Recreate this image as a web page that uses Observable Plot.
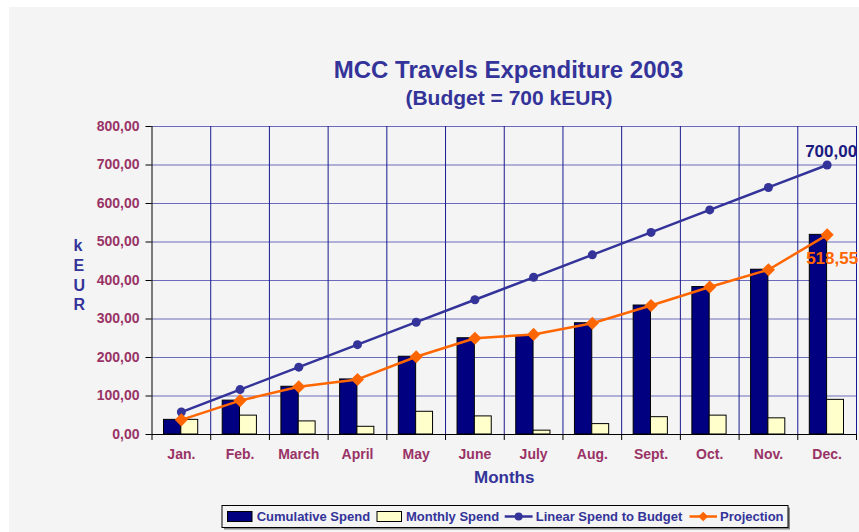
<!DOCTYPE html>
<html><head><meta charset="utf-8">
<script src="https://cdn.jsdelivr.net/npm/d3@7"></script>
<script src="https://cdn.jsdelivr.net/npm/@observablehq/plot@0.6"></script>
<style>
body{margin:0;background:#fff;}
#wrap{position:relative;width:859px;height:532px;overflow:hidden;font-family:"Liberation Sans",Arial,sans-serif;}
#bg{position:absolute;left:9px;top:7px;right:0;bottom:0;background:#f4f4f4;}
#chart{position:absolute;left:0;top:0;}
#legend{position:absolute;left:0;top:0;}
</style></head><body>
<div id="wrap"><div id="bg"></div><div id="chart"></div><svg id="legend" width="859" height="532"></svg></div>
<script>
const months = ["Jan.","Feb.","March","April","May","June","July","Aug.","Sept.","Oct.","Nov.","Dec."];
const cumulativeSpend = [38, 88, 124, 143, 202, 250, 256, 289, 335, 383, 428, 518.55];
const monthlySpend = [38, 49, 34, 20, 59, 47, 10, 27, 45, 49, 42, 90];
const linearSpend = [58.33, 116.67, 175, 233.33, 291.67, 350, 408.33, 466.67, 525, 583.33, 641.67, 700];
const projection = [38, 88, 124, 143, 202, 250, 260, 289, 335, 383, 428, 518.55];
const yTicks = [0, 100, 200, 300, 400, 500, 600, 700, 800];
const seriesNames = ["Cumulative Spend", "Monthly Spend", "Linear Spend to Budget", "Projection"];

const W = 859, H = 532, L = 151.5, R = 3, T = 126, B = 98;
const bw = (W - R - L) / months.length;
const data = months.map((m, i) => ({month: m, cum: cumulativeSpend[i], mon: monthlySpend[i], lin: linearSpend[i], proj: projection[i]}));
const last = data[data.length - 1];
const fmt = d => d3.format(".2f")(d).replace(".", ",");
const navy = "#000080", titleC = "#333399", maroon = "#993366", orange = "#ff6600";

const chart = Plot.plot({
  width: W, height: H, marginLeft: L, marginRight: R, marginTop: T, marginBottom: B,
  style: {background: "transparent", fontFamily: "'Liberation Sans', Arial, sans-serif", overflow: "visible"},
  x: {type: "band", domain: months, padding: 0, round: false, axis: null},
  y: {domain: [0, 800], axis: null},
  marks: [
    Plot.ruleY(yTicks.slice(1), {stroke: "#6b6bbb", strokeWidth: 1}),
    Plot.ruleX(months.slice(1), {x: d => d, dx: -bw / 2, stroke: "#1a1a90", strokeWidth: 1}),
    Plot.ruleX([months[months.length - 1]], {x: d => d, dx: bw / 2, stroke: "#1a1a90", strokeWidth: 1}),
    Plot.barY(data, {x: "month", y: "cum", fill: navy, stroke: "#000", strokeWidth: 1, insetLeft: 12, insetRight: bw - 29.3}),
    Plot.barY(data, {x: "month", y: "mon", fill: "#ffffcc", stroke: "#000", strokeWidth: 1, insetLeft: 29.3, insetRight: 12.5}),
    Plot.ruleY([0], {stroke: "#000", strokeWidth: 1}),
    Plot.ruleX([months[0]], {x: d => d, dx: -bw / 2, stroke: "#000", strokeWidth: 1}),
    Plot.ruleX(months, {x: d => d, dx: -bw / 2, y1: 0, y2: 0, insetBottom: -6, stroke: "#000"}),
    Plot.ruleX([months[months.length - 1]], {x: d => d, dx: bw / 2, y1: 0, y2: 0, insetBottom: -6, stroke: "#000"}),
    Plot.axisY({ticks: yTicks, tickFormat: () => "", tickSize: 6, stroke: "#000", label: null}),
    Plot.axisY({ticks: yTicks, tickFormat: fmt, tickSize: 0, tickPadding: 12.5, fill: maroon, fontSize: 14, fontWeight: "bold", label: null}),
    Plot.axisX({tickSize: 0, tickPadding: 15, fill: maroon, fontSize: 14, fontWeight: "bold", label: null}),
    Plot.line(data, {x: "month", y: "lin", stroke: titleC, strokeWidth: 2.5}),
    Plot.dot(data, {x: "month", y: "lin", fill: titleC, r: 4.5, symbol: "circle"}),
    Plot.line(data, {x: "month", y: "proj", stroke: orange, strokeWidth: 2.5}),
    Plot.dot(data, {x: "month", y: "proj", fill: orange, r: 5.9, symbol: "diamond2"}),
    Plot.text([last], {x: "month", y: "lin", text: d => fmt(d.lin), dx: 4, dy: -13.6, fill: "#1a1a80", fontSize: 17, fontWeight: "bold"}),
    Plot.text([last], {x: "month", y: "proj", text: d => fmt(d.proj), dx: 5, dy: 23.7, fill: orange, fontSize: 17, fontWeight: "bold"}),
    Plot.text(["MCC Travels Expenditure 2003"], {frameAnchor: "top", dx: 508 - 503.75, dy: -66, fill: titleC, fontSize: 24, fontWeight: "bold"}),
    Plot.text(["(Budget = 700 kEUR)"], {frameAnchor: "top", dx: 508.5 - 503.75, dy: -36.7, fill: titleC, fontSize: 21, fontWeight: "bold"}),
    Plot.text(["Months"], {frameAnchor: "bottom", dy: 48.9, fill: titleC, fontSize: 17, fontWeight: "bold"}),
    Plot.text(["k\nE\nU\nR"], {frameAnchor: "left", dx: 73 - L, dy: -6, fill: titleC, fontSize: 16, fontWeight: "bold", lineHeight: 1.22})
  ]
});
document.getElementById("chart").append(chart);

// Legend
const lg = d3.select("#legend");
const bx = 222, by = 505.5, bwid = 566, bh = 22;
lg.append("rect").attr("x", bx + 2).attr("y", by + 2).attr("width", bwid).attr("height", bh).attr("fill", "#888");
lg.append("rect").attr("x", bx).attr("y", by).attr("width", bwid).attr("height", bh).attr("fill", "#f4f4f4").attr("stroke", "#000").attr("stroke-width", 1);
const cy = by + bh / 2;
lg.append("rect").attr("x", 227.5).attr("y", cy - 5).attr("width", 24.5).attr("height", 10).attr("fill", navy).attr("stroke", "#000");
lg.append("rect").attr("x", 377).attr("y", cy - 5).attr("width", 24.5).attr("height", 10).attr("fill", "#ffffcc").attr("stroke", "#000");
lg.append("line").attr("x1", 504.7).attr("x2", 532.6).attr("y1", cy).attr("y2", cy).attr("stroke", titleC).attr("stroke-width", 2.5);
lg.append("circle").attr("cx", 518.6).attr("cy", cy).attr("r", 4).attr("fill", titleC);
lg.append("line").attr("x1", 689.5).attr("x2", 717).attr("y1", cy).attr("y2", cy).attr("stroke", orange).attr("stroke-width", 2.5);
lg.append("path").attr("d", d3.symbol(d3.symbolDiamond2, 60)()).attr("transform", `translate(703.2,${cy})`).attr("fill", orange);
const tx = [256.7, 406, 535.7, 720];
seriesNames.forEach((s, i) => {
  lg.append("text").attr("x", tx[i]).attr("y", cy + 4.6).attr("fill", titleC)
    .attr("font-size", 13).attr("font-weight", "bold").attr("font-family", "'Liberation Sans', Arial, sans-serif").text(s);
});
</script>
</body></html>
